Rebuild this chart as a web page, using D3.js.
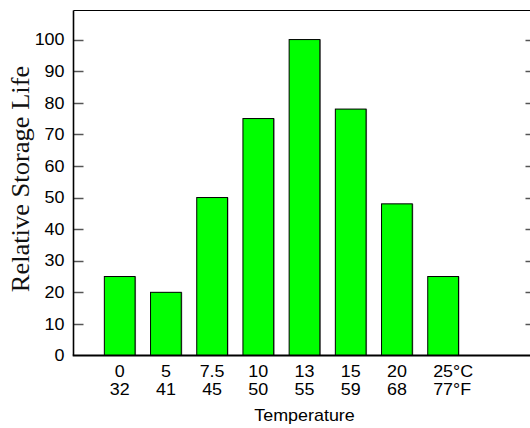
<!DOCTYPE html>
<html><head><meta charset="utf-8">
<script src="https://cdn.jsdelivr.net/npm/d3@7"></script>
<style>html,body{margin:0;padding:0;background:#fff;}svg{display:block;}</style>
</head><body>
<svg id="c" width="530" height="428"></svg>
<script>
const celsius = ["0","5","7.5","10","13","15","20","25"];
const fahrenheit = ["32","41","45","50","55","59","68","77"];
const units = ["","","","","","","","°"];
const values = [25,20,50,75,100,78,48,25];
const yTicks = [0,10,20,30,40,50,60,70,80,90,100];
const yTitle = "Relative Storage Life";
const xTitle = "Temperature";

const svg = d3.select("#c");
const SX = 1.12;
const x = d3.scaleLinear().domain([0,10]).range([73.5,535.5]);
const y = d3.scaleLinear().domain([0,109.2]).range([355.5,10.5]);
const barW = (x(1)-x(0))*0.665;

function stext(g, px, py, str, opts){
  const sx = opts.sx || SX;
  const t = g.append("text").attr("transform",`translate(${px},${py}) scale(${sx},1)` + (opts.rot?` rotate(${opts.rot})`:""))
    .attr("font-family", opts.family||"Liberation Sans, Arial, sans-serif")
    .attr("font-size", opts.size||16)
    .attr("text-anchor", opts.anchor||"middle")
    .attr("fill", opts.fill||"#000")
    .text(str);
  if(opts.dy) t.attr("dy", opts.dy);
  return t;
}

// frame top / right
svg.append("line").attr("x1",x(0)).attr("x2",x(10)).attr("y1",y(109.2)).attr("y2",y(109.2)).attr("stroke","#000").attr("stroke-width",1);
svg.append("line").attr("x1",x(10)).attr("x2",x(10)).attr("y1",y(0)).attr("y2",y(109.2)).attr("stroke","#000").attr("stroke-width",1);

// ticks
const tg = svg.append("g");
yTicks.filter(d=>d>0).forEach(d=>{
  tg.append("line").attr("x1",x(0)).attr("x2",x(0)+10).attr("y1",Math.round(y(d))+0.5).attr("y2",Math.round(y(d))+0.5).attr("stroke","#555").attr("stroke-width",1.5);
  tg.append("line").attr("x1",x(10)-10).attr("x2",x(10)).attr("y1",Math.round(y(d))+0.5).attr("y2",Math.round(y(d))+0.5).attr("stroke","#555").attr("stroke-width",1.5);
});
yTicks.forEach(d=>{
  stext(svg, 64.5, y(d), String(d), {anchor:"end", dy:"0.36em"});
});

// bars
const bg = svg.append("g");
bg.selectAll("rect.sh").data(values).join("rect").attr("class","sh")
  .attr("x",(d,i)=>x(i+1)-barW/2+1).attr("y",d=>y(d))
  .attr("width",barW).attr("height",d=>y(0)-y(d))
  .attr("fill","#888");
bg.selectAll("rect.b").data(values).join("rect").attr("class","b")
  .attr("x",(d,i)=>x(i+1)-barW/2).attr("y",d=>y(d))
  .attr("width",barW).attr("height",d=>y(0)-y(d))
  .attr("fill","#00ff00").attr("stroke","#000").attr("stroke-width",1);

// axes lines
svg.append("line").attr("x1",x(0)).attr("x2",x(0)).attr("y1",y(0)).attr("y2",y(109.2)).attr("stroke","#000").attr("stroke-width",1.6);
svg.append("line").attr("x1",x(0)-0.8).attr("x2",x(10)).attr("y1",y(0)).attr("y2",y(0)).attr("stroke","#000").attr("stroke-width",1.8);

// x labels
celsius.forEach((c,i)=>{
  const cx = x(i+1);
  const t1 = stext(svg, cx, 377, c, {});
  const t2 = stext(svg, cx, 395, fahrenheit[i], {});
  if(units[i]){
    const w1 = t1.node().getComputedTextLength()*SX;
    const w2 = t2.node().getComputedTextLength()*SX;
    stext(svg, cx + w1/2, 377, units[i]+"C", {anchor:"start"});
    stext(svg, cx + w2/2, 395, units[i]+"F", {anchor:"start"});
  }
});

// titles
stext(svg, (x(0)+x(10))/2, 421, xTitle, {size:16});
stext(svg, 29, 179, yTitle, {family:"Liberation Serif, Times New Roman, serif", size:26.5, rot:-90, sx:0.92, fill:"#111"});
</script>
</body></html>
